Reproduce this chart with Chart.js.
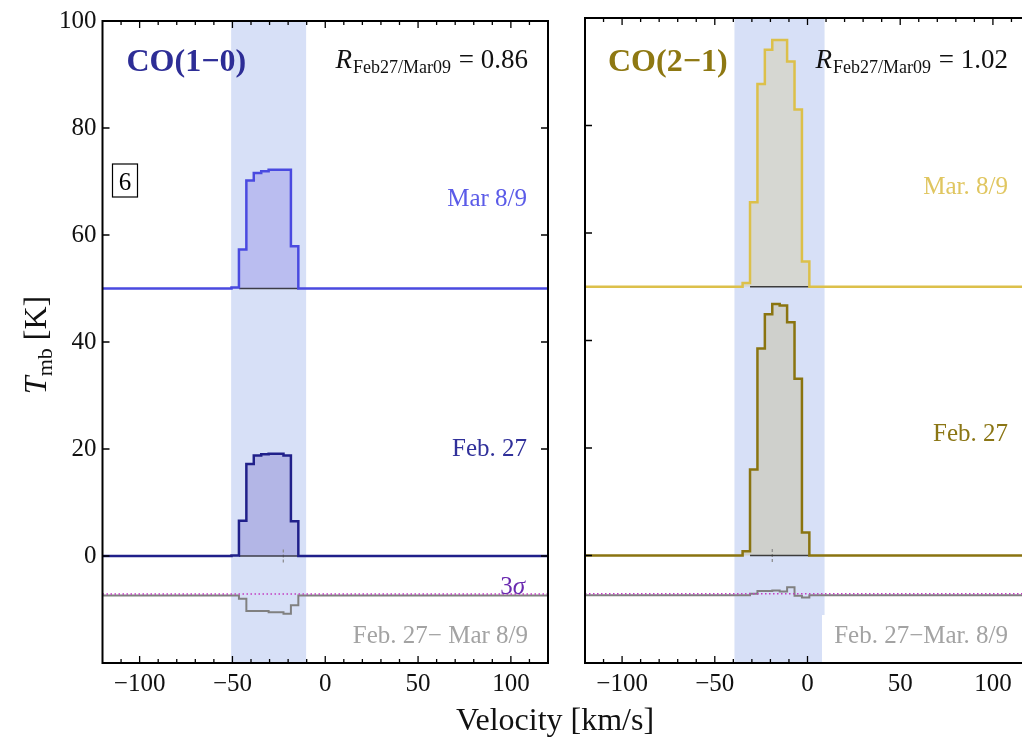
<!DOCTYPE html>
<html>
<head>
<meta charset="utf-8">
<script src="https://cdn.jsdelivr.net/npm/chart.js@4"></script>
<style>
  html, body { margin: 0; padding: 0; background: #fff; overflow: hidden; }
  body { width: 1022px; height: 742px; position: relative; }
  canvas { position: absolute; top: 0; }
  #left { left: 0; }
  #right { left: 560px; }
  #xtitle { position: absolute; left: 405px; width: 300px; top: 701px; line-height: 32px;
            text-align: center; font: 32px "Liberation Serif"; color: #111; }
</style>
</head>
<body>
<canvas id="left" width="560" height="742" style="width:560px;height:742px"></canvas>
<canvas id="right" width="480" height="742" style="width:480px;height:742px"></canvas>
<div id="xtitle">Velocity [km/s]</div>
<script>
const velocityTicks = [-100, -50, 0, 50, 100];
const velocityMinor = [-110, -90, -80, -70, -60, -40, -30, -20, -10, 10, 20, 30, 40, 60, 70, 80, 90, 110];
const tempTicks = [0, 20, 40, 60, 80, 100];

// CO(1-0): channel edges in km/s, one brightness (K) per channel
const co10Edges = [-120, -50.5, -46.5, -42.5, -38.5, -34.5, -30.5, -26.5, -22.5, -18.5, -14.5, 120];
const co10Mar = [0, 0.2, 7.3, 20.2, 21.6, 21.9, 22.2, 22.2, 22.2, 7.9, 0];
const co10Feb = [0, 0.1, 6.6, 17.2, 18.8, 19.0, 19.1, 19.1, 18.8, 6.5, 0];
const co10Diff = [0, 0, -0.6, -2.9, -2.9, -2.9, -3.1, -3.1, -3.4, -1.8, 0];
const co10Band = [-50.7, -10.3];
const co10Vsys = -22.6;

// CO(2-1)
const co21Edges = [-120, -35, -31, -27, -23, -19, -15, -11, -7, -3, 1, 120];
const co21Mar = [0, 0.7, 15.7, 37.7, 44.1, 45.9, 45.9, 41.9, 33.0, 4.7, 0];
const co21Feb = [0, 0.8, 16.0, 38.5, 44.9, 46.8, 46.5, 43.4, 32.9, 4.3, 0];
const co21Diff = [0, 0, 0.3, 0.8, 0.8, 0.9, 0.7, 1.5, -0.1, -0.4, 0];
const co21Band = [-39.4, 9.2];
const co21Vsys = -19;

const marOffset = 50;
const diffOffset = -7.4;
const threeSigma = 0.3;

const SERIF = '"Liberation Serif", "DejaVu Serif", serif';

function steps(edges, values, offset) {
    const pts = [];
    values.forEach((v, i) => {
        pts.push({ x: edges[i], y: v + offset });
        pts.push({ x: edges[i + 1], y: v + offset });
    });
    return pts;
}

function spectrum(edges, values, offset, color, fillColor, width) {
    return {
        data: steps(edges, values, offset),
        borderColor: color,
        borderWidth: width,
        backgroundColor: fillColor,
        fill: fillColor ? { value: offset } : false,
    };
}

function flat(x0, x1, y, color, width, dash) {
    return {
        data: [{ x: x0, y: y }, { x: x1, y: y }],
        borderColor: color,
        borderWidth: width,
        borderDash: dash || [],
        fill: false,
    };
}

function minusSign(v) {
    return String(v).replace("-", "\u2212");
}

// shaded velocity window behind the spectra
function bandPlugin(range) {
    return {
        id: "band",
        beforeDatasetsDraw(chart) {
            const { ctx, chartArea: a, scales: { x } } = chart;
            const x0 = x.getPixelForValue(range[0]);
            const x1 = x.getPixelForValue(range[1]);
            ctx.save();
            ctx.fillStyle = "#d7e0f7";
            ctx.fillRect(x0, a.top, x1 - x0, a.height);
            ctx.restore();
        },
    };
}

const frameTicks = {
    id: "frameTicks",
    afterDatasetsDraw(chart) {
        const { ctx, chartArea: a, scales: { x, y } } = chart;
        ctx.save();
        ctx.strokeStyle = "#000";
        ctx.lineWidth = 1.3;
        ctx.beginPath();
        velocityTicks.forEach((v) => {
            const px = x.getPixelForValue(v);
            ctx.moveTo(px, a.bottom); ctx.lineTo(px, a.bottom - 7);
            ctx.moveTo(px, a.top); ctx.lineTo(px, a.top + 7);
        });
        velocityMinor.forEach((v) => {
            const px = x.getPixelForValue(v);
            ctx.moveTo(px, a.bottom); ctx.lineTo(px, a.bottom - 4);
            ctx.moveTo(px, a.top); ctx.lineTo(px, a.top + 4);
        });
        tempTicks.forEach((t) => {
            const py = y.getPixelForValue(t);
            ctx.moveTo(a.left, py); ctx.lineTo(a.left + 7, py);
            ctx.moveTo(a.right, py); ctx.lineTo(a.right - 7, py);
        });
        ctx.stroke();
        ctx.lineWidth = 2;
        ctx.strokeRect(a.left, a.top, a.right - a.left, a.bottom - a.top);
        ctx.restore();
    },
};

function drawRatio(ctx, right, base, value) {
    const big = "italic 27px " + SERIF;
    const sub = "18px " + SERIF;
    const rest = "27px " + SERIF;
    const tail = " = " + value;
    ctx.font = big; const wR = ctx.measureText("R").width;
    ctx.font = sub; const wS = ctx.measureText("Feb27/Mar09").width;
    ctx.font = rest; const wT = ctx.measureText(tail).width;
    let x = right - wR - wS - wT - 2;
    ctx.textAlign = "left";
    ctx.fillStyle = "#111";
    ctx.font = big; ctx.fillText("R", x, base); x += wR + 1;
    ctx.font = sub; ctx.fillText("Feb27/Mar09", x, base + 5); x += wS + 1;
    ctx.font = rest; ctx.fillText(tail, x, base);
}

function label(ctx, text, x, y, color, font) {
    ctx.font = font || "25px " + SERIF;
    ctx.fillStyle = color;
    ctx.textAlign = "right";
    ctx.fillText(text, x, y);
}

const leftText = {
    id: "leftText",
    afterDraw(chart) {
        const { ctx, chartArea: a } = chart;
        ctx.save();
        ctx.textBaseline = "alphabetic";
        ctx.font = "bold 32px " + SERIF;
        ctx.fillStyle = "#2d2d96";
        ctx.textAlign = "left";
        ctx.fillText("CO(1\u22120)", a.left + 24, 71);
        drawRatio(ctx, a.right - 20, 68, "0.86");

        ctx.strokeStyle = "#000";
        ctx.lineWidth = 1.2;
        ctx.strokeRect(a.left + 10, 164, 25, 33);
        ctx.font = "25px " + SERIF;
        ctx.fillStyle = "#000";
        ctx.textAlign = "center";
        ctx.fillText("6", a.left + 22.5, 190);

        label(ctx, "Mar 8/9", a.right - 21, 206, "#5b5be8");
        label(ctx, "Feb. 27", a.right - 21, 456, "#30309a");
        label(ctx, "\u03c3", a.right - 23, 594, "#6a2ab0", "italic 25px " + SERIF);
        ctx.font = "italic 25px " + SERIF;
        const ws = ctx.measureText("\u03c3").width;
        label(ctx, "3", a.right - 23 - ws, 594, "#6a2ab0");
        label(ctx, "Feb. 27\u2212 Mar 8/9", a.right - 20, 643, "#a3a3a3");

        // y title: T_mb [K]
        ctx.translate(35, 345);
        ctx.rotate(-Math.PI / 2);
        const fT = "italic 32px " + SERIF, fS = "22px " + SERIF, fK = "32px " + SERIF;
        ctx.font = fT; const w1 = ctx.measureText("T").width;
        ctx.font = fS; const w2 = ctx.measureText("mb").width;
        ctx.font = fK; const w3 = ctx.measureText(" [K]").width;
        let x = -(w1 + w2 + w3) / 2;
        ctx.fillStyle = "#111";
        ctx.textAlign = "left";
        ctx.font = fT; ctx.fillText("T", x, 11); x += w1;
        ctx.font = fS; ctx.fillText("mb", x, 17); x += w2;
        ctx.font = fK; ctx.fillText(" [K]", x, 11);
        ctx.restore();
    },
};

const rightText = {
    id: "rightText",
    afterDraw(chart) {
        const { ctx, chartArea: a } = chart;
        ctx.save();
        ctx.font = "bold 32px " + SERIF;
        ctx.fillStyle = "#8e7812";
        ctx.textAlign = "left";
        ctx.fillText("CO(2\u22121)", a.left + 23, 71);
        drawRatio(ctx, a.right - 22, 68, "1.02");

        label(ctx, "Mar. 8/9", a.right - 22, 194, "#e0c660");
        label(ctx, "Feb. 27", a.right - 22, 441, "#8b7615");
        ctx.fillStyle = "#fff";
        ctx.fillRect(a.right - 208, 615, 200, a.bottom - 616);
        label(ctx, "Feb. 27\u2212Mar. 8/9", a.right - 22, 643, "#a3a3a3");
        ctx.restore();
    },
};

function panelOptions(showY, padding) {
    return {
        responsive: false,
        animation: false,
        layout: { padding: padding },
        plugins: { legend: { display: false }, tooltip: { enabled: false } },
        elements: { point: { radius: 0 }, line: { tension: 0 } },
        scales: {
            x: {
                type: "linear",
                min: -120,
                max: 120,
                afterBuildTicks: (s) => { s.ticks = velocityTicks.map((v) => ({ value: v })); },
                afterFit: (s) => { s.height = 79; },
                grid: { display: false, drawTicks: false },
                border: { display: false },
                ticks: {
                    padding: 6,
                    maxRotation: 0,
                    color: "#111",
                    font: { family: SERIF, size: 25 },
                    callback: minusSign,
                },
            },
            y: {
                type: "linear",
                display: showY,
                min: -20,
                max: 100,
                afterBuildTicks: (s) => { s.ticks = tempTicks.map((v) => ({ value: v })); },
                afterFit: (s) => { s.width = showY ? 102.5 : 0; },
                grid: { display: false, drawTicks: false },
                border: { display: false },
                ticks: {
                    padding: 6,
                    color: "#111",
                    font: { family: SERIF, size: 25 },
                },
            },
        },
    };
}

function lineEdges(edges) {
    return [edges[2], edges[edges.length - 2]];
}

const e10 = lineEdges(co10Edges);
new Chart(document.getElementById("left"), {
    type: "line",
    data: {
        datasets: [
            flat(-120, 120, diffOffset + threeSigma, "#c23cc2", 1.5, [1.5, 2.5]),
            spectrum(co10Edges, co10Mar, marOffset, "#4a4ae0", null, 2.5),
            spectrum(co10Edges, co10Feb, 0, "#20208a", null, 2.5),
            spectrum(co10Edges, co10Diff, diffOffset, "#808080", null, 2),
            flat(e10[0], e10[1], marOffset, "#3c3c48", 1.6),
            flat(e10[0], e10[1], 0, "#3c3c48", 1.6),
            {
                data: [{ x: co10Vsys, y: -1.2 }, { x: co10Vsys, y: 1.2 }],
                borderColor: "#888", borderWidth: 1.2, borderDash: [3, 2], fill: false,
            },
            spectrum(co10Edges, co10Mar, marOffset, "rgba(0,0,0,0)", "#babdf0", 0),
            spectrum(co10Edges, co10Feb, 0, "rgba(0,0,0,0)", "#b3b6e6", 0),
        ],
    },
    options: panelOptions(true, { top: 18, right: 12, left: 0, bottom: 0 }),
    plugins: [bandPlugin(co10Band), frameTicks, leftText],
});

const e21 = lineEdges(co21Edges);
new Chart(document.getElementById("right"), {
    type: "line",
    data: {
        datasets: [
            flat(-120, 120, diffOffset + threeSigma, "#c23cc2", 1.5, [1.5, 2.5]),
            spectrum(co21Edges, co21Mar, marOffset, "#dcc04a", null, 2.5),
            spectrum(co21Edges, co21Feb, 0, "#8a7410", null, 2.5),
            spectrum(co21Edges, co21Diff, diffOffset, "#808080", null, 2),
            flat(e21[0], e21[1], marOffset, "#3c3c3c", 1.6),
            flat(e21[0], e21[1], 0, "#3c3c3c", 1.6),
            {
                data: [{ x: co21Vsys, y: -1.2 }, { x: co21Vsys, y: 1.2 }],
                borderColor: "#888", borderWidth: 1.2, borderDash: [3, 2], fill: false,
            },
            spectrum(co21Edges, co21Mar, marOffset, "rgba(0,0,0,0)", "#d6d7d2", 0),
            spectrum(co21Edges, co21Feb, 0, "rgba(0,0,0,0)", "#cfd0cc", 0),
        ],
    },
    options: panelOptions(false, { top: 18, right: 10, left: 25, bottom: 0 }),
    plugins: [bandPlugin(co21Band), frameTicks, rightText],
});
</script>
</body>
</html>
